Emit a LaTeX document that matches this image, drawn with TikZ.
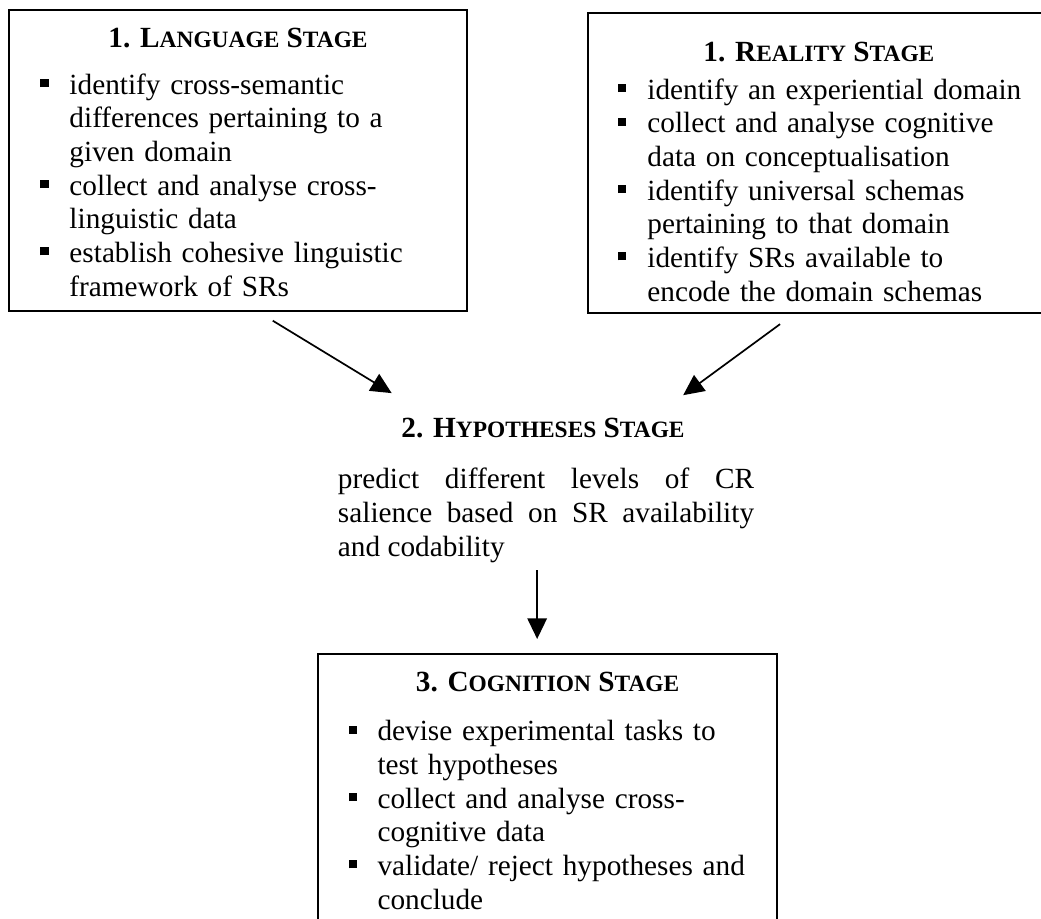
\documentclass[tikz,border=0pt]{standalone}
\usepackage{fontspec}
\setmainfont{Liberation Serif}
\usetikzlibrary{arrows.meta,calc,positioning}
\hyphenpenalty=10000
\tolerance=10000
\hbadness=10000
\newcommand{\smc}[1]{{\fontsize{9.6pt}{12pt}\selectfont #1}}
\newcommand{\bitem}[1]{\hangindent=11.9pt\hangafter=1\noindent\makebox[11.9pt][l]{\raisebox{2.9pt}{\rule{3.3pt}{3.3pt}}}#1\par}

\begin{document}
\begin{tikzpicture}[stagebox/.style={draw, line width=0.8pt, inner sep=0pt, minimum height=4.33cm},stagetitle/.style={anchor=base, inner sep=0pt, font=\fontsize{12pt}{13.8pt}\selectfont\bfseries},steplist/.style={anchor=base west, inner sep=0pt, text width=175pt, align=left, font=\fontsize{12pt}{13.8pt}\selectfont},flow/.style={line width=0.7pt, -{Triangle[length=8.5pt,width=8pt]}}]
\useasboundingbox (0,0) rectangle (15,13.242);
\clip (0,0) rectangle (15,13.242);
\node[stagebox, minimum width=6.6cm] (lang) at (3.43,10.93) {};
\node[stagebox, minimum width=6.66cm] (real) at (11.80,10.89) {};
\node[stagebox, minimum width=6.61cm, minimum height=4.2cm] (cogn) at (7.89,1.72) {};
\node[stagetitle] (langtitle) at ($(lang.north)+(0,-0.55)$) {1. L\smc{ANGUAGE} S\smc{TAGE}};
\node[stagetitle] (realtitle) at ($(real.north)+(0,-0.71)$) {1. R\smc{EALITY} S\smc{TAGE}};
\node[stagetitle] (cogntitle) at ($(cogn.north)+(0,-0.56)$) {3. C\smc{OGNITION} S\smc{TAGE}};
\node[steplist] (langlist) at ($(lang.north west)+(0.46,-1.225)$) {\bitem{identify cross-semantic\newline differences pertaining to a\newline given domain}\bitem{collect and analyse cross-\newline linguistic data}\bitem{establish cohesive linguistic\newline framework of SRs}};
\node[steplist] (reallist) at ($(real.north west)+(0.447,-1.257)$) {\bitem{identify an experiential domain}\bitem{collect and analyse cognitive\newline data on conceptualisation}\bitem{identify universal schemas\newline pertaining to that domain}\bitem{identify SRs available to\newline encode the domain schemas}};
\node[steplist] (cognlist) at ($(cogn.north west)+(0.444,-1.268)$) {\bitem{devise experimental tasks to\newline test hypotheses}\bitem{collect and analyse cross-\newline cognitive data}\bitem{validate/ reject hypotheses and\newline conclude}};
\node[stagetitle] (hyp) at (7.824,6.931) {2. H\smc{YPOTHESES} S\smc{TAGE}};
\node[anchor=base west, inner sep=0pt, text width=170.6pt, align=justify, font=\fontsize{12pt}{14pt}\selectfont] (hyptext) at (4.863,6.21) {predict different levels of CR\linebreak salience based on SR availability\linebreak and codability};
\coordinate (cognin) at ($(cogn.north)+(-0.15,0.20)$);
\draw[flow] ($(lang.south)+(0.50,-0.13)$) -- ($(hyp.north)+(-2.18,0.36)$);
\draw[flow] ($(real.south)+(-0.56,-0.14)$) -- ($(hyp.north)+(2.02,0.33)$);
\draw[flow] ([yshift=-0.1cm]hyptext.south -| cognin) -- (cognin);
\end{tikzpicture}
\end{document}
